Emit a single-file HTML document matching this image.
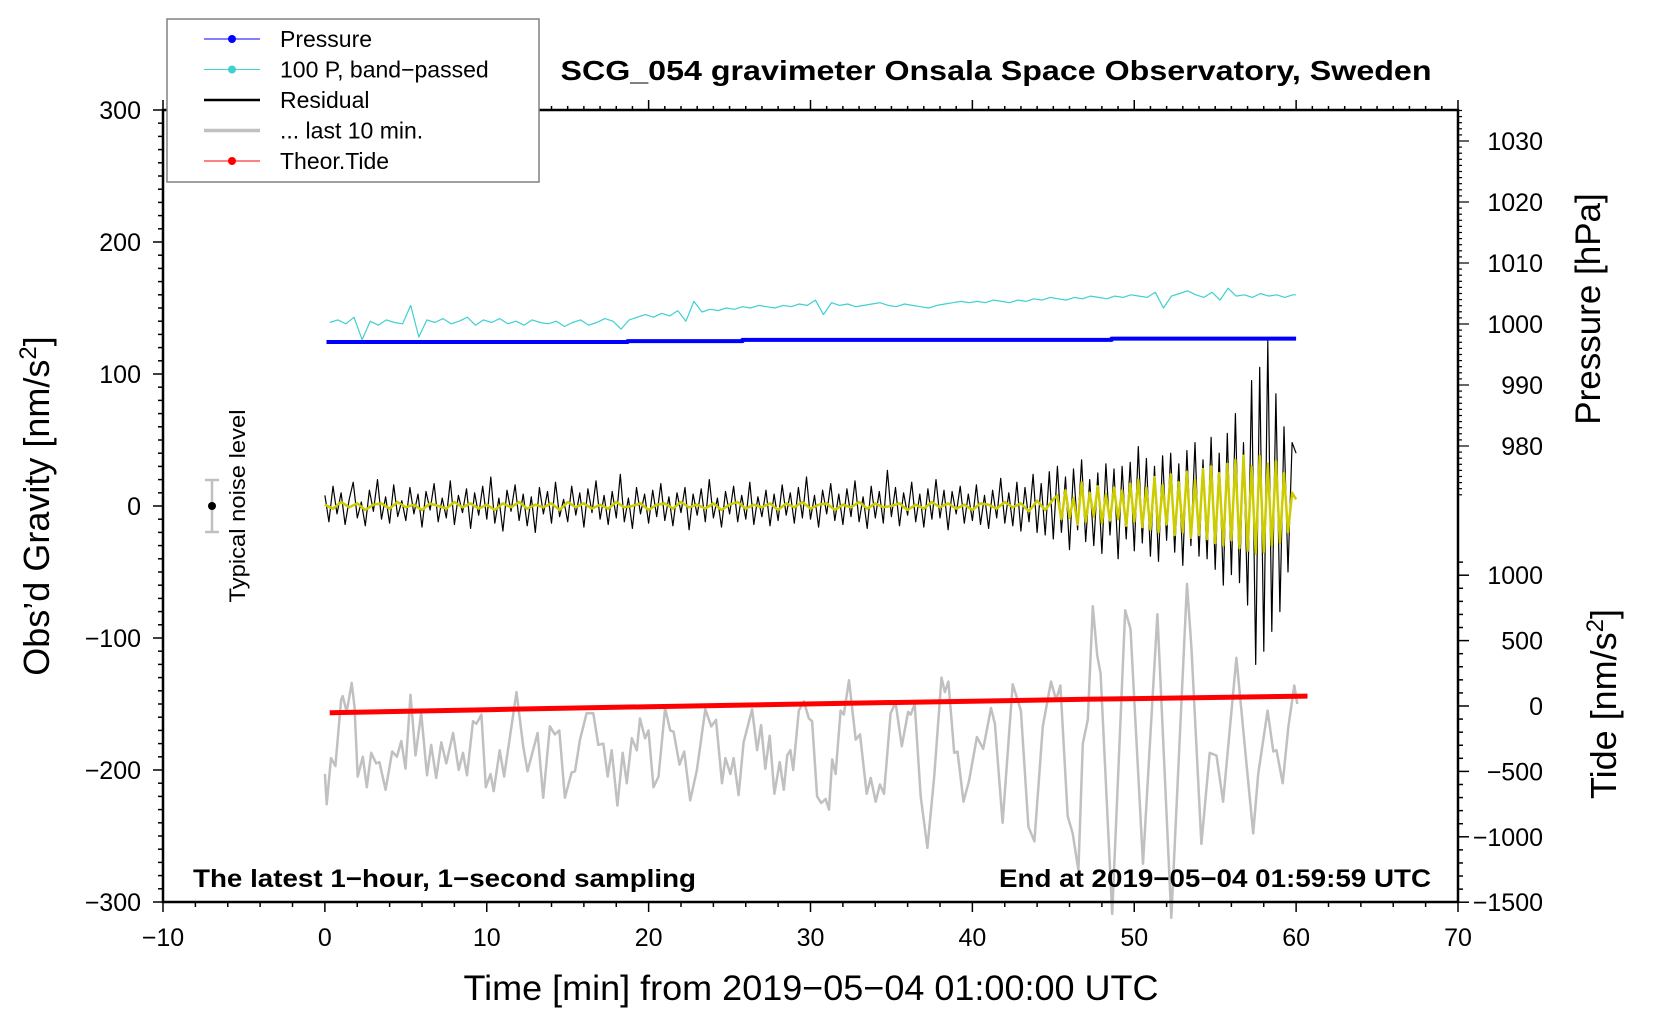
<!DOCTYPE html>
<html><head><meta charset="utf-8"><style>
html,body{margin:0;padding:0;background:#fff;}
svg{display:block;font-family:"Liberation Sans",Arial,sans-serif;}
</style></head><body>
<svg id="chart" width="1660" height="1020" viewBox="0 0 1660 1020" xmlns="http://www.w3.org/2000/svg">
<rect width="1660" height="1020" fill="#fff"/>
<g id="plot"></g>
<g id="axes"></g>
<text x="996" y="80" font-size="28" font-weight="bold" text-anchor="middle" textLength="871" lengthAdjust="spacingAndGlyphs">SCG_054 gravimeter Onsala Space Observatory, Sweden</text>
<text transform="translate(49,506) rotate(-90)" font-size="36" text-anchor="middle">Obs’d Gravity [nm/s<tspan dy="-13" font-size="24">2</tspan><tspan dy="13">]</tspan></text>
<text transform="translate(1600,309) rotate(-90)" font-size="35" text-anchor="middle">Pressure [hPa]</text>
<text transform="translate(1616,704) rotate(-90)" font-size="36" text-anchor="middle">Tide [nm/s<tspan dy="-13" font-size="24">2</tspan><tspan dy="13">]</tspan></text>
<text x="811" y="1000" font-size="35" text-anchor="middle" textLength="695" lengthAdjust="spacingAndGlyphs">Time [min] from 2019−05−04 01:00:00 UTC</text>
<text x="193" y="887" font-size="25" font-weight="bold" textLength="503" lengthAdjust="spacingAndGlyphs">The latest 1−hour, 1−second sampling</text>
<text x="1431" y="887" font-size="25" font-weight="bold" text-anchor="end" textLength="432" lengthAdjust="spacingAndGlyphs">End at 2019−05−04 01:59:59 UTC</text>
<g>
<line x1="212" y1="480" x2="212" y2="532" stroke="#c0c0c0" stroke-width="2.5"/>
<line x1="205" y1="480" x2="219" y2="480" stroke="#c0c0c0" stroke-width="2.5"/>
<line x1="205" y1="532" x2="219" y2="532" stroke="#c0c0c0" stroke-width="2.5"/>
<circle cx="212" cy="506" r="4" fill="#000"/>
<text transform="translate(245,506) rotate(-90)" font-size="22" text-anchor="middle" textLength="193" lengthAdjust="spacingAndGlyphs">Typical noise level</text>
</g>
<g id="legend">
<rect x="167" y="19" width="372" height="163" fill="#fff" stroke="#808080" stroke-width="1.5"/>
</g>
</svg>
<script>
// ---- data ----
var xTicks=[-10,0,10,20,30,40,50,60,70];
var gTicks=[300,200,100,0,-100,-200,-300];
var pTicks=[1030,1020,1010,1000,990,980];
var tTicks=[1000,500,0,-500,-1000,-1500];
var pressT=[0.1,18.7,18.7,25.8,25.8,48.6,48.6,60];
var pressV=[997.05,997.05,997.2,997.2,997.4,997.4,997.6,997.6];
var cyanV=[139,141,138,143,126,140,137,141,139,138,152,128,141,139,142,138,140,143,137,141,
139,142,138,140,137,141,139,138,140,136,139,141,137,139,142,140,134,141,143,145,
143,146,144,148,140,155,147,149,148,150,149,151,150,152,151,150,152,151,153,152,
156,145,154,152,153,151,152,153,154,152,151,153,152,151,150,152,153,154,155,154,
155,154,156,155,154,156,155,157,156,158,157,156,158,157,159,158,157,159,158,160,
159,158,162,150,159,161,163,160,158,162,156,165,159,160,158,161,159,160,158,160,160];
var residV=[8,-12,15,-6,10,-14,5,18,-9,3,-15,12,-4,20,-10,7,-13,16,-8,4,
-11,14,-6,9,-16,11,-3,17,-12,6,-9,19,-14,8,-5,13,-17,10,-7,15,
-10,22,-13,6,-19,12,-4,16,-11,9,-15,7,-20,14,-6,11,-13,18,-8,5,
-12,15,-7,10,-16,13,-5,19,-10,8,-14,11,-9,24,-12,6,-17,14,-6,9,
-13,12,-8,17,-11,7,-15,10,-5,14,-18,9,-7,13,-12,20,-9,6,-16,11,
-6,15,-12,8,-10,18,-14,7,-8,12,-15,9,-11,16,-7,10,-13,14,-9,22,
-10,8,-16,12,-6,17,-11,9,-14,13,-8,19,-12,7,-17,15,-9,11,-13,27,
-8,14,-15,10,-7,18,-12,9,-16,13,-10,20,-9,12,-18,11,-6,15,-13,9,
-11,16,-14,8,-17,12,-9,21,-13,10,-15,18,-19,14,-12,24,-20,17,-22,26,
-25,30,-20,22,-33,28,-18,35,-27,20,-30,25,-36,32,-22,28,-40,30,-25,33,
-34,45,-28,36,-38,30,-42,38,-26,40,-35,32,-45,42,-30,48,-38,35,-40,52,
-48,40,-60,55,-52,70,-58,48,-75,95,-120,105,-110,125,-95,85,-80,60,-50,48,40];
var yellowA=[1,-2,3,-1,2,-3,1,2,-2,3,-1,1,-3,2,0,-2,3,-1,2,-2,1,-3,2,-1,3,-2,1,-1,2,-3,
3,-1,2,-2,1,-2,3,-1,0,2,-3,1,2,-2,3,-1,1,-2,2,-3,1,3,-2,1,-1,2,-3,2,-1,3,
-2,1,2,-3,1,-1,3,-2,2,-1,0,2,-3,1,-2,3,-1,2,-2,1,-3,2,1,-2,3,-1,2,-4,4,-3,5];
var yellowB=[8,-10,12,-9,6,-14,18,-12,10,-8,15,-13,9,-11,14,-10,12,-15,17,-12,
20,-16,14,-18,22,-20,16,-14,24,-22,18,-20,26,-24,20,-22,28,-25,30,-28,
25,-30,32,-26,35,-32,38,-34,30,-36,38,-35,32,-30,34,-28,25,-20,10,5];
var grayT=[0.0,0.11,0.38,0.65,1.0,1.1,1.35,1.66,1.83,2.03,2.34,2.59,2.86,3.17,3.37,3.75,4.16,4.45,4.72,4.98,5.29,5.6,5.95,6.31,6.57,6.88,7.19,7.5,7.92,8.27,8.53,8.78,9.15,9.36,9.67,9.94,10.23,10.43,10.8,11.07,11.84,12.25,12.52,13.14,13.49,13.9,14.21,14.48,14.83,15.24,15.45,15.76,16.17,16.58,16.89,17.2,17.47,17.72,18.07,18.4,18.65,18.96,19.27,19.47,19.78,19.99,20.3,20.61,21.02,21.33,21.54,21.91,22.2,22.57,22.98,23.5,23.87,24.16,24.53,24.74,25.05,25.25,25.56,25.87,26.39,26.7,26.95,27.21,27.48,27.77,28.1,28.35,28.56,28.76,28.93,29.28,29.59,29.9,30.1,30.41,30.66,30.93,31.14,31.34,31.55,31.86,32.06,32.38,32.79,33.06,33.47,33.72,34.03,34.29,34.54,34.95,35.26,35.64,36.03,36.19,36.44,36.81,37.22,37.64,38.09,38.3,38.52,38.88,39.08,39.45,39.8,40.28,40.67,41.15,41.39,41.87,42.49,43.0,43.46,43.83,44.35,44.86,45.17,45.44,45.89,46.2,46.55,46.82,47.13,47.44,47.71,47.92,48.64,49.44,49.77,50.54,51.43,52.29,53.26,53.53,54.15,54.66,55.08,55.49,56.31,56.83,57.35,57.66,58.24,58.59,58.79,59.17,59.52,59.89,60.07];
var grayV=[-203,-226,-191,-197,-147,-144,-156,-134,-152,-205,-190,-213,-187,-195,-194,-215,-186,-190,-178,-199,-143,-189,-157,-204,-181,-206,-179,-195,-172,-200,-187,-204,-163,-165,-158,-213,-203,-216,-185,-205,-141,-182,-201,-172,-221,-167,-173,-170,-221,-202,-201,-177,-157,-157,-181,-180,-205,-185,-227,-187,-210,-176,-185,-161,-176,-170,-213,-205,-153,-170,-171,-196,-186,-223,-200,-154,-167,-162,-210,-191,-203,-191,-219,-179,-154,-185,-166,-199,-174,-218,-194,-215,-189,-185,-200,-155,-148,-161,-163,-220,-225,-222,-230,-192,-203,-155,-158,-132,-177,-173,-218,-206,-224,-211,-218,-157,-149,-182,-156,-158,-150,-220,-259,-205,-130,-141,-133,-187,-186,-224,-208,-175,-184,-153,-165,-240,-135,-155,-243,-254,-167,-133,-147,-136,-235,-248,-276,-180,-162,-76,-113,-127,-309,-79,-93,-271,-82,-312,-59,-107,-256,-187,-189,-224,-115,-182,-248,-203,-155,-186,-185,-210,-167,-136,-150];
var tideT=[0.3,10,20,31,47,60.7];
var tideV=[-51,-28,-5,18,51,76];
var legendLabels=["Pressure","100 P, band−passed","Residual","... last 10 min.","Theor.Tide"];

// ---- scales ----
var X0=163,X1=1458,Y0=110,Y1=902;
function sx(t){return X0+(t+10)*(X1-X0)/80;}
function sg(v){return Y1-(v+300)*(Y1-Y0)/600;}
function sp(p){return 324-(p-1000)*6.1;}
function st(v){return 706-v*0.1308;}
var NS="http://www.w3.org/2000/svg";
function mk(tag,attrs,parent){var e=document.createElementNS(NS,tag);for(var k in attrs)e.setAttribute(k,attrs[k]);parent.appendChild(e);return e;}
var plot=document.getElementById('plot'),axes=document.getElementById('axes'),legend=document.getElementById('legend');
function poly(ts,vs,fy,color,w,name){
  var pts=[];for(var i=0;i<ts.length;i++)pts.push(sx(ts[i]).toFixed(1)+','+fy(vs[i]).toFixed(1));
  var e=mk('polyline',{points:pts.join(' '),fill:'none',stroke:color,'stroke-width':w,'stroke-linejoin':'round'},plot);
  
  
  return e;
}
function seq(n,step,start){var a=[];for(var i=0;i<n;i++)a.push(start+i*step);return a;}

poly(grayT,grayV,sg,'#c0c0c0',2.5,'last-10-min-line');
poly(tideT,tideV,st,'#ff0000',5,'theor-tide-line');
poly(seq(cyanV.length,0.5,0.3).map(function(t){return Math.min(t,60);}),cyanV,sg,'#40d0d0',1.2,'pressure-bandpassed-line');
poly(pressT,pressV,sp,'#0000ff',4,'pressure-line');
poly(seq(residV.length,0.25,0),residV,sg,'#000',1.2,'residual-line');
var yT=seq(yellowA.length,0.5,0).concat(seq(yellowB.length,0.25,45.25));
poly(yT,yellowA.concat(yellowB),sg,'#cccc00',2.5,'residual-smoothed-line');

// ---- axes ----
var fr=mk('rect',{x:X0,y:Y0,width:X1-X0,height:Y1-Y0,fill:'none',stroke:'#000','stroke-width':2.5},axes);


function tick(x1,y1,x2,y2,w){mk('line',{x1:x1,y1:y1,x2:x2,y2:y2,stroke:'#000','stroke-width':w||1.5},axes);}
function label(x,y,txt,anchor,name){var e=mk('text',{x:x,y:y,'font-size':25,'text-anchor':anchor},axes);e.textContent=txt;
  
  }
for(var t=-10;t<=70;t+=1){var x=sx(t);
  if(t%2===0)tick(x,Y1,x,Y1+(t%10===0?10:5));
  tick(x,Y0,x,Y0-(t%10===0?10:4));}
xTicks.forEach(function(t){label(sx(t),946,String(t).replace('-','−'),'middle','x-tick-label');});
for(var v=-300;v<=300;v+=10){var y=sg(v);tick(X0,y,X0-(v%100===0?10:5),y);}
gTicks.forEach(function(v){label(141,sg(v)+9,String(v).replace('-','−'),'end','gravity-tick-label');});
for(var p=972;p<=1035;p+=1){var y=sp(p);tick(X1,y,X1+(p%10===0?11:4),y,1.2);}
pTicks.forEach(function(p){label(1543,sp(p)+9,String(p),'end','pressure-tick-label');});
for(var v=-1500;v<=1100;v+=100){var y=st(v);tick(X1,y,X1+(v%500===0?11:5),y);}
tTicks.forEach(function(v){label(1543,st(v)+9,String(v).replace('-','−'),'end','tide-tick-label');});

// ---- legend ----
var lColors=['#0000ff','#40d0d0','#000','#c0c0c0','#ff0000'];
var lWidth=[1,1,2.5,3.5,1];
var lDot=[true,true,false,false,true];
legendLabels.forEach(function(s,i){
  var y=39+i*30.5;
  var g=mk('g',{},legend);
  
  
  mk('line',{x1:204,y1:y,x2:260,y2:y,stroke:lColors[i],'stroke-width':lWidth[i]},g);
  if(lDot[i])mk('circle',{cx:232,cy:y,r:4,fill:lColors[i]},g);
  var tx=mk('text',{x:280,y:y+8,'font-size':23},g);tx.textContent=s;
});
</script>
</body></html>
